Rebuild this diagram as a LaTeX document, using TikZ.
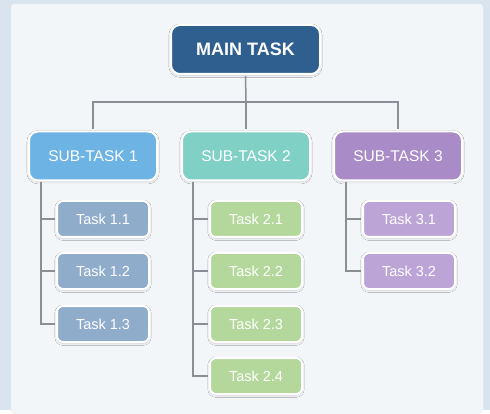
\documentclass[tikz,border=0pt]{standalone}
\usepackage{fontspec}
\setmainfont{Liberation Sans}
\usetikzlibrary{shadows.blur}
\definecolor{outerbg}{HTML}{D9E4EE}
\definecolor{panelbg}{HTML}{F3F6F9}
\definecolor{mainc}{HTML}{2F5F8E}
\definecolor{subA}{HTML}{6DB3E4}
\definecolor{subB}{HTML}{80D0C6}
\definecolor{subC}{HTML}{A88BC7}
\definecolor{taskA}{HTML}{8FACCB}
\definecolor{taskB}{HTML}{B4D89C}
\definecolor{taskC}{HTML}{BDA4D7}
\definecolor{linec}{HTML}{8A8F95}
\tikzset{
  boxbase/.style={draw=white, line width=2pt, text=white, align=center,
    blur shadow={shadow xshift=0pt, shadow yshift=-1.2pt, shadow opacity=18, shadow blur steps=6}},
  mainbox/.style={boxbase, rounded corners=9pt, fill=mainc, minimum width=149pt,
    minimum height=49pt, font=\fontsize{18}{21}\selectfont\bfseries},
  subbox/.style={boxbase, rounded corners=9pt, minimum width=128pt, minimum height=49pt,
    font=\fontsize{15.5}{18}\selectfont},
  taskbox/.style={boxbase, rounded corners=6pt, minimum width=92pt, minimum height=36pt,
    font=\fontsize{14.5}{17}\selectfont},
  conn/.style={draw=linec, line width=1.5pt},
}
\begin{document}
\begin{tikzpicture}[x=1pt, y=-1pt]
  % backdrop and panel
  \fill[outerbg] (0,0) rectangle (490,410);
  \fill[panelbg, rounded corners=3pt] (11,4) rectangle (483,414);
  \useasboundingbox (0,0) rectangle (490,410);

  % boxes
  \node[mainbox] (main) at (245.5,49.5) {MAIN TASK};
  \node[subbox, fill=subA] (s1) at (93,156) {SUB-TASK 1};
  \node[subbox, fill=subB] (s2) at (246,156) {SUB-TASK 2};
  \node[subbox, fill=subC] (s3) at (398,156) {SUB-TASK 3};

  \node[taskbox, fill=taskA] (t11) at (103,219) {Task 1.1};
  \node[taskbox, fill=taskA] (t12) at (103,271) {Task 1.2};
  \node[taskbox, fill=taskA] (t13) at (103,324) {Task 1.3};

  \node[taskbox, fill=taskB] (t21) at (256,219) {Task 2.1};
  \node[taskbox, fill=taskB] (t22) at (256,271) {Task 2.2};
  \node[taskbox, fill=taskB] (t23) at (256,324) {Task 2.3};
  \node[taskbox, fill=taskB] (t24) at (256,376) {Task 2.4};

  \node[taskbox, fill=taskC] (t31) at (409,219) {Task 3.1};
  \node[taskbox, fill=taskC] (t32) at (409,271) {Task 3.2};

  % top-level bar
  \coordinate (hub) at (246,102);
  \draw[conn, shorten <=1pt] (main.south) -- (hub);
  \draw[conn, shorten <=1pt, shorten >=1pt] (s1.north) |- (hub) -| (s3.north);
  \draw[conn, shorten >=1pt] (hub) -- (s2.north);

  % trunks down to the tasks
  \coordinate (k1) at ([xshift=13pt]s1.south west);
  \coordinate (k2) at ([xshift=12pt]s2.south west);
  \coordinate (k3) at ([xshift=13pt]s3.south west);
  \draw[conn, shorten <=1pt, shorten >=1pt] (k1) |- (t13.west);
  \draw[conn, shorten <=1pt] (t11.west) -- (t11.west -| k1);
  \draw[conn, shorten <=1pt] (t12.west) -- (t12.west -| k1);
  \draw[conn, shorten <=1pt, shorten >=1pt] (k2) |- (t24.west);
  \draw[conn, shorten <=1pt] (t21.west) -- (t21.west -| k2);
  \draw[conn, shorten <=1pt] (t22.west) -- (t22.west -| k2);
  \draw[conn, shorten <=1pt] (t23.west) -- (t23.west -| k2);
  \draw[conn, shorten <=1pt, shorten >=1pt] (k3) |- (t32.west);
  \draw[conn, shorten <=1pt] (t31.west) -- (t31.west -| k3);
\end{tikzpicture}
\end{document}
